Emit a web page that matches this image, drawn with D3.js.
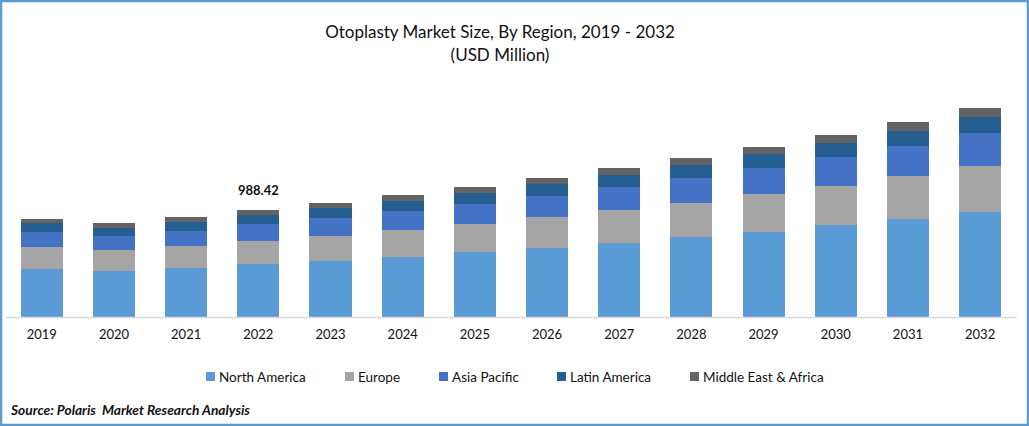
<!DOCTYPE html>
<html>
<head>
<meta charset="utf-8">
<script src="https://cdn.jsdelivr.net/npm/d3@7"></script>
<style>
  html, body { margin: 0; padding: 0; background: #fff; }
  svg { display: block; }
  text { font-family: Lato, "Open Sans", sans-serif; fill: #111; white-space: pre; }
</style>
</head>
<body>
<div id="chart"></div>
<script>
const years = ["2019","2020","2021","2022","2023","2024","2025","2026","2027","2028","2029","2030","2031","2032"];
const regions = ["North America","Europe","Asia Pacific","Latin America","Middle East & Africa"];

// USD million (2022 total is the labelled 988.42)
const northAmerica = [443,425,453,490,517,554,600,637,684,739,785,850,905,970];
const europe       = [203,194,203,212,231,249,259,286,305,314,351,360,397,425];
const asiaPacific  = [139,129,139,157,166,176,185,194,212,231,240,268,277,305];
const latinAmerica = [83,74,83,83,92,92,102,111,111,120,129,129,139,148];
const middleEast   = [37,46,46,46.42,46,55,55,55,65,65,65,74,83,83];
const labelled = { year: "2022", text: "988.42" };

const colors = ["#5b9bd5","#a5a5a5","#4472c4","#255e91","#636363"];
const legendX = [206,345,439,557,690];

const width = 1029, height = 426;
const svg = d3.select("#chart").append("svg").attr("width", width).attr("height", height);

// frame
svg.append("rect").attr("x", 1).attr("y", 1).attr("width", width - 2).attr("height", height - 2)
  .attr("fill", "#fff").attr("stroke", "#5b9bd5").attr("stroke-width", 2.5);

const table = years.map((y, i) => ({
  year: y,
  "North America": northAmerica[i],
  "Europe": europe[i],
  "Asia Pacific": asiaPacific[i],
  "Latin America": latinAmerica[i],
  "Middle East & Africa": middleEast[i]
}));
const stacked = d3.stack().keys(regions)(table);

const x = d3.scaleBand().domain(years).range([5.7, 1016.2]).paddingInner(0.417).paddingOuter(0.2085);
const y = d3.scaleLinear().domain([0, 988.42]).range([317, 210]);

svg.append("g").selectAll("g")
  .data(stacked)
  .join("g")
  .attr("fill", (d, i) => colors[i])
  .selectAll("rect")
  .data(d => d)
  .join("rect")
  .attr("x", d => x(d.data.year))
  .attr("width", x.bandwidth())
  .attr("y", d => y(d[1]))
  .attr("height", d => y(d[0]) - y(d[1]))
  .attr("shape-rendering", "crispEdges");

const axis = svg.append("g").attr("transform", "translate(0,317)")
  .call(d3.axisBottom(x).tickSize(0).tickPadding(12.5));
axis.select(".domain").attr("stroke", "#d9d9d9").attr("stroke-width", 1.5);
axis.selectAll("text").style("font-family", "Lato, sans-serif").style("font-size", "13px").attr("fill", "#111");

// data label
const labelTotal = d3.sum(regions, r => table[years.indexOf(labelled.year)][r]);
svg.append("text")
  .attr("x", x(labelled.year) + x.bandwidth() / 2)
  .attr("y", y(labelTotal) - 15)
  .attr("text-anchor", "middle")
  .style("font-size", "13px").style("font-weight", 700)
  .text(labelled.text);

// title
svg.append("text").attr("x", 500).attr("y", 38).attr("text-anchor", "middle")
  .style("font-size", "17px").text("Otoplasty Market Size, By Region, 2019 - 2032");
svg.append("text").attr("x", 500).attr("y", 61).attr("text-anchor", "middle")
  .style("font-size", "17px").text("(USD Million)");

// legend
const legend = svg.append("g").selectAll("g")
  .data(regions)
  .join("g")
  .attr("transform", (d, i) => `translate(${legendX[i]},372)`);
legend.append("rect").attr("width", 9).attr("height", 9).attr("fill", (d, i) => colors[i]);
legend.append("text").attr("x", 13).attr("y", 9.5).style("font-size", "13.5px").text(d => d);

// source
svg.append("text").attr("x", 11).attr("y", 415)
  .style("font-size", "13.75px").style("font-weight", 700).style("font-style", "italic")
  .text("Source: Polaris  Market Research Analysis");
</script>
</body>
</html>
